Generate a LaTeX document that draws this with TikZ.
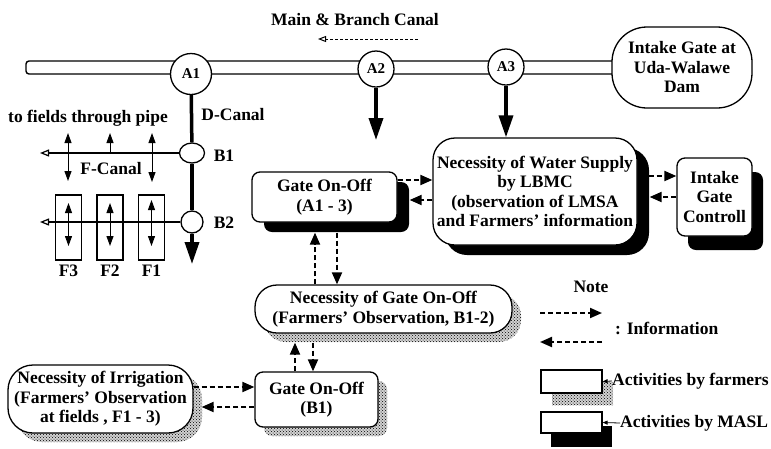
\documentclass[tikz,border=0pt]{standalone}
\usepackage{fontspec}
\setmainfont{Liberation Serif}
\usetikzlibrary{arrows.meta,shadows,patterns,shapes.geometric}

\begin{document}
\begin{tikzpicture}[x=1pt,y=-1pt,
  every node/.style={font=\bfseries\fontsize{17.5}{19.5}\selectfont, align=center, inner sep=0pt},
  box/.style={draw, line width=1.3pt, fill=white, rounded corners=8pt},
  masl/.style={box, drop shadow={shadow xshift=12pt, shadow yshift=-10pt, fill=black, opacity=1}},
  stipple/.style 2 args={
    drop shadow={shadow xshift=#1, shadow yshift=#2, opacity=1, fill=gray!35},
    drop shadow={shadow xshift=#1, shadow yshift=#2, opacity=1, fill=none, pattern=crosshatch dots, pattern color=black}},
  farm/.style={box, stipple={9pt}{-9pt}},
  gatecircle/.style={circle, draw, line width=1.3pt, fill=white, font=\bfseries\fontsize{15}{15}\selectfont},
  junction/.style={draw, line width=1.3pt, fill=white},
  info/.style={dash pattern=on 5pt off 3pt, line width=2pt, -{Triangle[length=12pt,width=10pt]}},
  flowdir/.style={dash pattern=on 3pt off 2pt, line width=1pt, -{Triangle[open,length=8pt,width=6pt]}},
  flow/.style={line width=3.5pt, -{Triangle[length=22pt,width=14pt]}},
  canal/.style={line width=3.5pt},
  pipe/.style={line width=1.2pt, -{Triangle[open,length=9pt,width=7pt]}},
  fieldarrow/.style={line width=1pt, {Triangle[length=10pt,width=7pt]}-{Triangle[length=10pt,width=7pt]}},
  upfield/.style={line width=1pt, -{Triangle[length=10pt,width=7pt]}},
  field/.style={draw, line width=1.2pt, minimum width=26, minimum height=65},
  pointer/.style={line width=0.8pt, -{Triangle[length=5pt,width=4pt]}},
]
\useasboundingbox (0,0) rectangle (771,448);

% ---------- main & branch canal ----------
\node (title) at (355,20) {Main \& Branch Canal};
\coordinate (dirR) at (418,39);
\coordinate (dirL) at (318,39);
\draw[flowdir] (dirR) -- (dirL);

\draw[line width=1.4pt, fill=white, rounded corners=3pt] (26,61) rectangle (620,74);

\node[box, rounded corners=35pt, minimum width=140, minimum height=81] (dam) at (682,67.5)
  {Intake Gate at\\Uda-Walawe\\Dam};

\node[gatecircle, minimum size=41] (A1) at (191,74) {A1};
\node[gatecircle, minimum size=36] (A2) at (376,69) {A2};
\node[gatecircle, minimum size=36] (A3) at (506,67) {A3};

% ---------- D-canal and F-canals ----------
\node[junction, ellipse, minimum width=25, minimum height=20] (B1) at (192,153) {};
\node[junction, circle, minimum size=22] (B2) at (192,222) {};
\coordinate (Dend) at (192,264);
\draw[canal] (A1) -- (B1);
\draw[canal] (B1) -- (B2);
\draw[flow] (B2) -- (Dend);

\node (dlab) at (233,115) {D-Canal};
\node (B1lab) at (224,156) {B1};
\node (B2lab) at (224,223) {B2};
\node (pipelab) at (88,118) {to fields through pipe};
\node (flab) at (111,169) {F-Canal};

\coordinate (FcanalA) at (40,153);
\draw[pipe] (B1) -- (FcanalA);
\coordinate (p1t) at (68,133);
\coordinate (p1b) at (68,181);
\coordinate (p2a) at (110,153);
\coordinate (p2t) at (110,133);
\coordinate (p3t) at (152,133);
\coordinate (p3b) at (152,182);
\draw[fieldarrow] (p1t) -- (p1b);
\draw[upfield] (p2a) -- (p2t);
\draw[fieldarrow] (p3t) -- (p3b);

\node[field] (F3) at (68.5,227.5) {};
\node[field] (F2) at (110,227.5) {};
\node[field] (F1) at (151.5,227.5) {};
\coordinate (FcanalB) at (40,222);
\draw[pipe] (B2) -- (FcanalB);
\draw[fieldarrow] (F3 |- 0,203) -- (F3 |- 0,246);
\draw[fieldarrow] (F2 |- 0,203) -- (F2 |- 0,246);
\draw[fieldarrow] (F1 |- 0,200) -- (F1 |- 0,246);
\node (F3lab) at (68.5,271) {F3};
\node (F2lab) at (110,271) {F2};
\node (F1lab) at (151.5,271) {F1};

% ---------- activities ----------
\node[masl, rounded corners=22pt, minimum width=204, minimum height=107] (water) at (535,191.5)
  {Necessity of Water Supply\\by LBMC\\(observation of LMSA\\and Farmers' information};
\node[box, minimum width=75, minimum height=78,
  drop shadow={shadow xshift=11pt, shadow yshift=-14pt, fill=black, opacity=1}] (ctrl) at (714.5,197)
  {Intake\\Gate\\Controll};
\node[masl, minimum width=145, minimum height=50] (g13) at (324.5,197) {Gate On-Off\\(A1 - 3)};
\node[farm, rounded corners=22pt, minimum width=257, minimum height=48] (gneed) at (383.5,309)
  {Necessity of Gate On-Off\\(Farmers' Observation, B1-2)};
\node[farm, minimum width=123, minimum height=55] (gb1) at (316.5,399.5) {Gate On-Off\\(B1)};
\node[farm, rounded corners=25pt, minimum width=185, minimum height=68] (irr) at (100.5,399)
  {Necessity of Irrigation\\(Farmers' Observation\\at fields , F1 - 3)};

\coordinate (A2end) at (376,140);
\draw[flow] (A2) -- (A2end);
\draw[flow] (A3) -- (A3 |- water.north);

% ---------- information flows ----------
\draw[info] (g13.east |- 0,180) -- (water.west |- 0,180);
\draw[info, shorten >=12pt] (water.west |- 0,200) -- (g13.east |- 0,200);
\draw[info, shorten <=11pt] (water.east |- 0,176) -- (ctrl.west |- 0,176);
\draw[info, shorten >=12pt] (ctrl.west |- 0,197) -- (water.east |- 0,197);
\draw[info, shorten >=10pt] (gneed.north -| 315,0) -- (g13.south -| 315,0);
\draw[info, shorten <=10pt] (g13.south -| 337,0) -- (gneed.north -| 337,0);
\draw[info, shorten >=9pt] (gb1.north -| 295,0) -- (gneed.south -| 295,0);
\draw[info, shorten <=9pt] (gneed.south -| 313,0) -- (gb1.north -| 313,0);
\draw[info] (irr.east |- 0,387) -- (gb1.west |- 0,387);
\draw[info, shorten >=8pt] (gb1.west |- 0,407) -- (irr.east |- 0,407);

% ---------- legend ----------
\node (note) at (591,287) {Note};
\coordinate (l1a) at (540,313);
\coordinate (l1b) at (602,313);
\coordinate (l2a) at (602,342);
\coordinate (l2b) at (540,342);
\draw[info] (l1a) -- (l1b);
\draw[info] (l2a) -- (l2b);
\node[anchor=west] (infolab) at (615,328) {: Information};

\node[draw, line width=1.2pt, fill=white, minimum width=61, minimum height=23, stipple={11pt}{-12pt}]
  (legF) at (571.5,381.5) {};
\node[anchor=west] (legFlab) at (612,381) {Activities by farmers};
\draw[pointer] (legFlab.west) -- (legF.east);

\node[draw, line width=1.2pt, fill=white, minimum width=61, minimum height=21,
  drop shadow={shadow xshift=10pt, shadow yshift=-14pt, fill=black, opacity=1}]
  (legM) at (571.5,422.5) {};
\node[anchor=west] (legMlab) at (620,423) {Activities by MASL};
\draw[pointer] (legMlab.west) -- (legM.east);
\end{tikzpicture}
\end{document}
